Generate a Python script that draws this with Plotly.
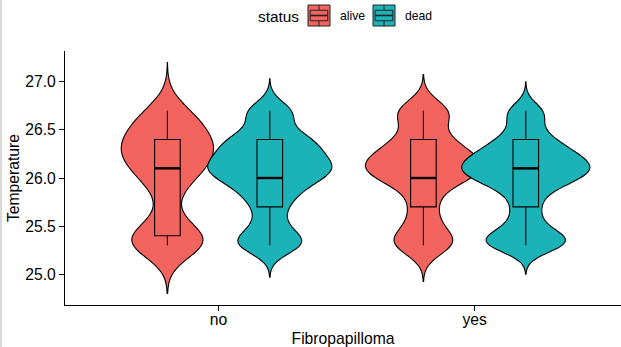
import numpy as np
import plotly.graph_objects as go

# ---------------- data ----------------
categories = ["no", "yes"]
statuses = ["alive", "dead"]

# temperature grid (°C) on which observations were recorded
temps = [25.3, 25.4, 25.5, 25.6, 25.7, 25.8, 25.9, 26.0, 26.1, 26.2, 26.3, 26.4, 26.5, 26.6, 26.7]

# number of observations at each temperature (estimated from violin shapes)
counts_no_alive = [5, 3, 1, 0, 1, 0, 1, 2, 2, 3, 3, 3, 2, 2, 2]
counts_no_dead = [4, 2, 1, 1, 1, 2, 2, 4, 5, 4, 3, 4, 1, 1, 3]
counts_yes_alive = [4, 2, 1, 1, 1, 1, 1, 4, 5, 4, 3, 2, 1, 1, 4]
counts_yes_dead = [4, 3, 1, 1, 1, 1, 2, 4, 5, 4, 3, 2, 1, 1, 2]

# kernel bandwidths (estimated)
bw_no_alive, bw_no_dead, bw_yes_alive, bw_yes_dead = 0.167, 0.11, 0.125, 0.10

# box statistics: [no, yes]
q1_alive = [25.4, 25.7]
median_alive = [26.1, 26.0]
q3_alive = [26.4, 26.4]
low_alive = [25.3, 25.3]
high_alive = [26.7, 26.7]

q1_dead = [25.7, 25.7]
median_dead = [26.0, 26.1]
q3_dead = [26.4, 26.4]
low_dead = [25.3, 25.3]
high_dead = [26.7, 26.7]

# ---------------- styles ----------------
colors = {"alive": "#F3645F", "dead": "#1BB2B8"}
dodge = 0.2
box_w = 0.1
violin_w = {("no", "alive"): 0.36, ("no", "dead"): 0.485,
            ("yes", "alive"): 0.453, ("yes", "dead"): 0.50}
FONT = "Liberation Sans, Arial, Helvetica, sans-serif"

# plot-area geometry in pixels (for the hand-built legend)
W, H = 621, 347
ML, MR, MT, MB = 65, 0, 51, 42
PW, PH = W - ML - MR, H - MT - MB


def px_x(px):
    return (px - ML) / PW


def px_y(py):
    return (H - MB - py) / PH


counts = {("no", "alive"): (counts_no_alive, bw_no_alive),
          ("no", "dead"): (counts_no_dead, bw_no_dead),
          ("yes", "alive"): (counts_yes_alive, bw_yes_alive),
          ("yes", "dead"): (counts_yes_dead, bw_yes_dead)}
stats = {"alive": (q1_alive, median_alive, q3_alive, low_alive, high_alive),
         "dead": (q1_dead, median_dead, q3_dead, low_dead, high_dead)}

fig = go.Figure()

# violins
for ci, cat in enumerate(categories):
    for si, st in enumerate(statuses):
        cnt, bw = counts[(cat, st)]
        samples = np.repeat(np.array(temps), np.array(cnt))
        pos = ci + (-dodge if si == 0 else dodge)
        fig.add_trace(go.Violin(
            y=samples, x0=pos, orientation="v",
            width=violin_w[(cat, st)], scalemode="width",
            bandwidth=bw, spanmode="manual",
            span=[samples.min() - 3 * bw, samples.max() + 3 * bw],
            fillcolor=colors[st], line=dict(color="black", width=1.1),
            opacity=1, points=False, box_visible=False, meanline_visible=False,
            showlegend=False, hoverinfo="skip", name=st,
        ))

# boxes
for si, st in enumerate(statuses):
    q1, med, q3, lo, hi = stats[st]
    xs = [ci + (-dodge if si == 0 else dodge) for ci in range(len(categories))]
    fig.add_trace(go.Box(
        x=xs, q1=q1, median=med, q3=q3, lowerfence=lo, upperfence=hi,
        width=box_w, whiskerwidth=0, boxpoints=False,
        fillcolor=colors[st], line=dict(color="black", width=1.1),
        name=st, showlegend=False,
    ))
    # thicker median line like ggplot
    for x, m in zip(xs, med):
        fig.add_trace(go.Scatter(
            x=[x - box_w / 2, x + box_w / 2], y=[m, m], mode="lines",
            line=dict(color="black", width=2.4), showlegend=False,
            hoverinfo="skip",
        ))

# ---------------- legend (ggplot style, built from shapes + text) ----------------
shapes = [dict(type="line", xref="paper", yref="paper",
               x0=px_x(1), x1=px_x(1), y0=px_y(H + 5), y1=px_y(-5),
               line=dict(color="#d8d8d8", width=2))]
annotations = [dict(text="status", xref="paper", yref="paper",
                    x=px_x(256), y=px_y(16), xanchor="left", yanchor="middle",
                    showarrow=False, font=dict(size=15.4, family=FONT, color="black"))]
key_x = {"alive": 308, "dead": 373}
kw, ky0, ky1 = 22, 5, 26
for st in statuses:
    x0 = key_x[st]
    x1 = x0 + kw
    xm = (x0 + x1) / 2
    bt = ky0 + 0.25 * (ky1 - ky0)
    bb = ky0 + 0.75 * (ky1 - ky0)
    ym = (ky0 + ky1) / 2
    shapes += [
        dict(type="rect", xref="paper", yref="paper", x0=px_x(x0), x1=px_x(x1),
             y0=px_y(ky1), y1=px_y(ky0), fillcolor=colors[st],
             line=dict(color="#222222", width=1)),
        dict(type="rect", xref="paper", yref="paper", x0=px_x(x0 + 2.2), x1=px_x(x1 - 2.2),
             y0=px_y(bb), y1=px_y(bt), fillcolor=colors[st],
             line=dict(color="#222222", width=1)),
        dict(type="line", xref="paper", yref="paper", x0=px_x(x0 + 2.2), x1=px_x(x1 - 2.2),
             y0=px_y(ym), y1=px_y(ym), line=dict(color="#222222", width=1.6)),
        dict(type="line", xref="paper", yref="paper", x0=px_x(xm), x1=px_x(xm),
             y0=px_y(bt), y1=px_y(ky0), line=dict(color="#222222", width=1)),
        dict(type="line", xref="paper", yref="paper", x0=px_x(xm), x1=px_x(xm),
             y0=px_y(ky1), y1=px_y(bb), line=dict(color="#222222", width=1)),
    ]
    annotations.append(dict(text=st, xref="paper", yref="paper",
                            x=px_x(x1 + 7.5), y=px_y(16), xanchor="left", yanchor="middle",
                            showarrow=False, font=dict(size=12.2, family=FONT, color="black")))

fig.update_layout(
    width=W, height=H,
    margin=dict(l=ML, r=MR, t=MT, b=MB),
    paper_bgcolor="white", plot_bgcolor="white",
    font=dict(family=FONT, color="black"),
    violinmode="overlay", boxmode="overlay",
    showlegend=False,
    shapes=shapes, annotations=annotations,
)

fig.update_xaxes(
    range=[-0.6, 1.572], tickmode="array", tickvals=[0, 1], ticktext=categories,
    showline=True, linecolor="black", linewidth=1.2, ticks="outside", ticklen=5,
    tickcolor="black", showgrid=False, zeroline=False,
    tickfont=dict(size=15.7), ticklabelstandoff=-5,
    title=dict(text="Fibropapilloma", font=dict(size=15.7), standoff=7),
)
fig.update_yaxes(
    range=[24.68, 27.32], tickmode="array", tickvals=[25.0, 25.5, 26.0, 26.5, 27.0],
    tickformat=".1f",
    showline=True, linecolor="black", linewidth=1.2, ticks="outside", ticklen=5,
    tickcolor="black", showgrid=False, zeroline=False,
    tickfont=dict(size=15.7),
    title=dict(text="Temperature", font=dict(size=15.7), standoff=1),
)

fig.write_html("out.html")
